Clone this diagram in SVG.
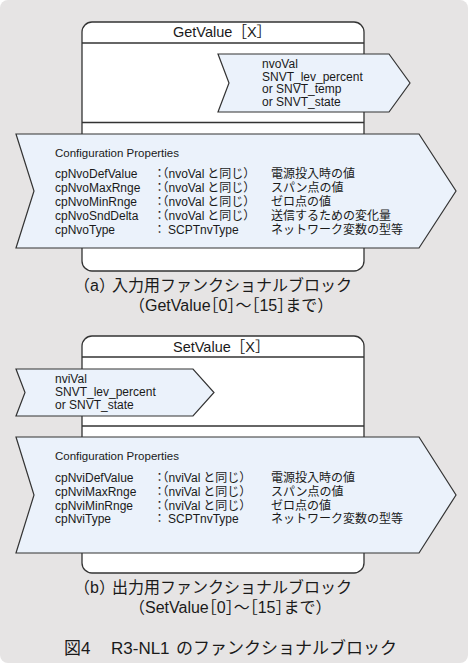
<svg xmlns="http://www.w3.org/2000/svg" width="469" height="667" viewBox="0 0 469 667">
<style>
.bg{fill:#e6e4e4}
.box{fill:#ffffff;stroke:#333;stroke-width:1.3}
.ln{stroke:#333;stroke-width:1.3;fill:none}
.arr{fill:#ebf2fb;stroke:#333;stroke-width:1.2;stroke-linejoin:miter}
text{font-family:"Liberation Sans","Noto Sans CJK JP",sans-serif;fill:#1a1a1a}
.title{font-size:14.5px}
.sig{font-size:12px}
.cp{font-size:11.5px}
.row{font-size:12px}
.cap{font-size:16px}
.halt{font-feature-settings:"halt"}
.fig{font-size:17px}
</style>
<rect class="bg" x="0" y="0" width="468" height="663" rx="8"/>

<g id="getvalue-block">
  <rect class="box" x="82" y="22" width="282" height="249" rx="10"/>
  <line class="ln" x1="82" y1="43" x2="364" y2="43"/>
  <line class="ln" x1="82" y1="122.5" x2="364" y2="122.5"/>
  <text class="title" x="173" y="37">GetValue［X］</text>
</g>

<g id="nvoVal-output">
  <polygon class="arr" points="218,54 389,54 410,83 389,112 218,112 229,83"/>
  <text class="sig"><tspan x="262" y="68">nvoVal</tspan><tspan x="262" y="80.5">SNVT_lev_percent</tspan><tspan x="262" y="93">or SNVT_temp</tspan><tspan x="262" y="105.5">or SNVT_state</tspan></text>
</g>

<g id="getvalue-config">
  <polygon class="arr" points="16,134 419,134 456,191 419,248 16,248 34,191"/>
  <text class="cp" x="55" y="156.5">Configuration Properties</text>
  <text class="row" x="55" y="177.5">cpNvoDefValue</text>
  <text class="row" x="55" y="191.5">cpNvoMaxRnge</text>
  <text class="row" x="55" y="205.5">cpNvoMinRnge</text>
  <text class="row" x="55" y="219.5">cpNvoSndDelta</text>
  <text class="row" x="55" y="233.5">cpNvoType</text>
  <text class="row halt" x="156.5" y="177.5">：（nvoVal<tspan dx="3">と同じ）</tspan></text>
  <text class="row halt" x="156.5" y="191.5">：（nvoVal<tspan dx="3">と同じ）</tspan></text>
  <text class="row halt" x="156.5" y="205.5">：（nvoVal<tspan dx="3">と同じ）</tspan></text>
  <text class="row halt" x="156.5" y="219.5">：（nvoVal<tspan dx="3">と同じ）</tspan></text>
  <text class="row halt" x="156.5" y="233.5">：<tspan dx="5.5">SCPTnvType</tspan></text>
  <text class="row" x="271" y="177.5">電源投入時の値</text>
  <text class="row" x="271" y="191.5">スパン点の値</text>
  <text class="row" x="271" y="205.5">ゼロ点の値</text>
  <text class="row" x="271" y="219.5">送信するための変化量</text>
  <text class="row" x="271" y="233.5">ネットワーク変数の型等</text>
</g>

<g id="caption-a">
  <text class="cap"><tspan class="halt" x="82" y="291">（a）</tspan><tspan x="112" y="291">入力用ファンクショナルブロック</tspan></text>
  <text class="cap halt" x="137" y="311">（GetValue［0］～［15］まで）</text>
</g>

<g id="setvalue-block">
  <rect class="box" x="82" y="336" width="282" height="237" rx="10"/>
  <line class="ln" x1="82" y1="357" x2="364" y2="357"/>
  <line class="ln" x1="82" y1="426" x2="364" y2="426"/>
  <text class="title" x="173" y="352">SetValue［X］</text>
</g>

<g id="nviVal-input">
  <polygon class="arr" points="16,369 193,369 214,392.5 193,416 16,416 25,392.5"/>
  <text class="sig"><tspan x="55" y="383">nviVal</tspan><tspan x="55" y="396">SNVT_lev_percent</tspan><tspan x="55" y="408.5">or SNVT_state</tspan></text>
</g>

<g id="setvalue-config">
  <polygon class="arr" points="16,437 419,437 456,495 419,553 16,553 34,495"/>
  <text class="cp" x="55" y="459.5">Configuration Properties</text>
  <text class="row" x="55" y="482">cpNviDefValue</text>
  <text class="row" x="55" y="496">cpNviMaxRnge</text>
  <text class="row" x="55" y="509.5">cpNviMinRnge</text>
  <text class="row" x="55" y="523">cpNviType</text>
  <text class="row halt" x="156.5" y="482">：（nviVal<tspan dx="3">と同じ）</tspan></text>
  <text class="row halt" x="156.5" y="496">：（nviVal<tspan dx="3">と同じ）</tspan></text>
  <text class="row halt" x="156.5" y="509.5">：（nviVal<tspan dx="3">と同じ）</tspan></text>
  <text class="row halt" x="156.5" y="523">：<tspan dx="5.5">SCPTnvType</tspan></text>
  <text class="row" x="271" y="482">電源投入時の値</text>
  <text class="row" x="271" y="496">スパン点の値</text>
  <text class="row" x="271" y="509.5">ゼロ点の値</text>
  <text class="row" x="271" y="523">ネットワーク変数の型等</text>
</g>

<g id="caption-b">
  <text class="cap"><tspan class="halt" x="82" y="593">（b）</tspan><tspan x="112" y="593">出力用ファンクショナルブロック</tspan></text>
  <text class="cap halt" x="137" y="613">（SetValue［0］～［15］まで）</text>
</g>

<g id="figure-title">
  <text class="fig"><tspan x="64" y="654">図4</tspan><tspan x="111" y="654">R3-NL1</tspan><tspan x="176" y="654">のファンクショナルブロック</tspan></text>
</g>

<g id="connectors"/>
</svg>
